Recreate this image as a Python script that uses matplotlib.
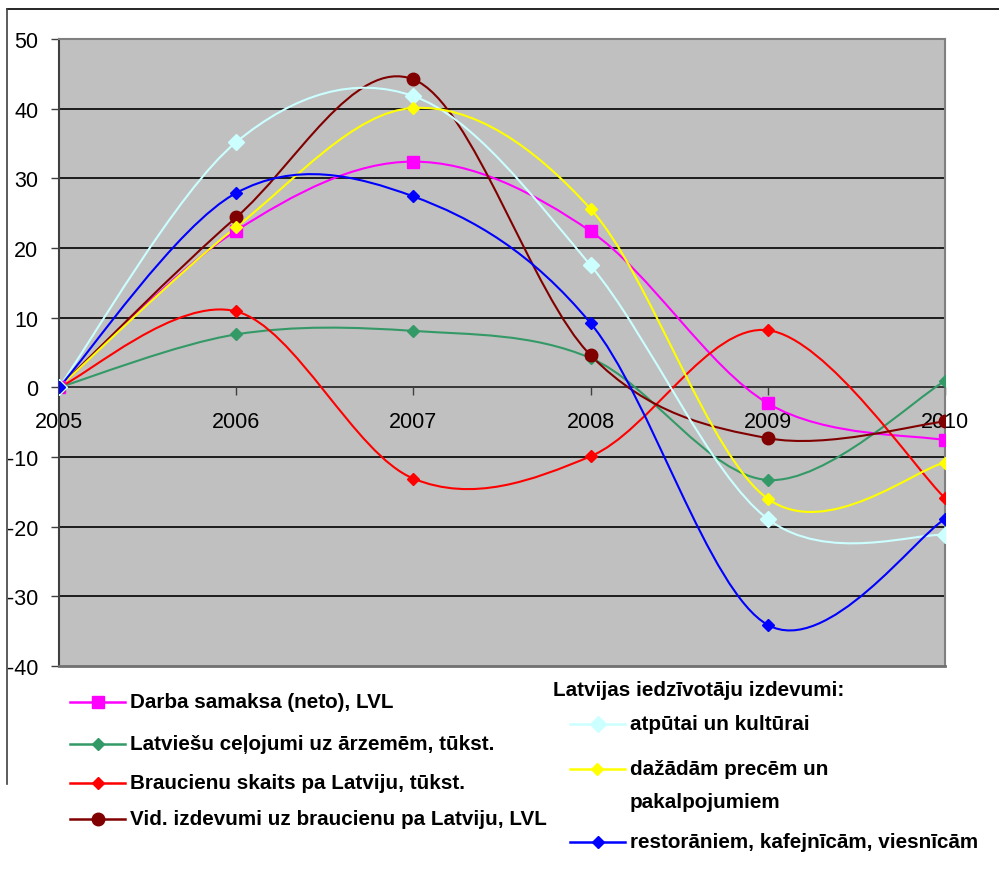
import numpy as np
import matplotlib.pyplot as plt
from matplotlib.path import Path
from matplotlib.patches import PathPatch
from matplotlib.lines import Line2D

plt.rcParams["axes.unicode_minus"] = False

years = [2005, 2006, 2007, 2008, 2009, 2010]

darba = [0, 22.5, 32.4, 22.4, -2.3, -7.6]
celojumi = [0, 7.6, 8.1, 4.2, -13.3, 0.9]
braucieni = [0, 10.9, -13.1, -9.9, 8.2, -15.9]
vid_izdevumi = [0, 24.4, 44.2, 4.6, -7.3, -4.9]
atputai = [0, 35.2, 41.8, 17.5, -18.9, -21.2]
precem = [0, 23.0, 40.1, 25.6, -16.0, -10.8]
restoraniem = [0, 27.9, 27.4, 9.2, -34.1, -18.9]

left_series = [
    ("Darba samaksa (neto), LVL", darba, "#FF00FF", "s", 9),
    ("Latviešu ceļojumi uz ārzemēm, tūkst.", celojumi, "#339966", "D", 6),
    ("Braucienu skaits pa Latviju, tūkst.", braucieni, "#FF0000", "D", 6),
    ("Vid. izdevumi uz braucienu pa Latviju, LVL", vid_izdevumi, "#800000", "o", 9),
]
right_header = "Latvijas iedzīvotāju izdevumi:"
right_series = [
    ("atpūtai un kultūrai", atputai, "#CCFFFF", "D", 8),
    ("dažādām precēm un\npakalpojumiem", precem, "#FFFF00", "D", 6),
    ("restorāniem, kafejnīcām, viesnīcām", restoraniem, "#0000FF", "D", 6),
]


def smooth_path(x, y):
    # Excel-like smoothed line: Catmull-Rom converted to cubic Bezier
    pts = np.column_stack([x, y]).astype(float)
    ext = np.vstack([pts[0], pts, pts[-1]])
    verts = [pts[0]]
    codes = [Path.MOVETO]
    for i in range(1, len(ext) - 2):
        p0, p1, p2, p3 = ext[i - 1], ext[i], ext[i + 1], ext[i + 2]
        verts += [p1 + (p2 - p0) / 6, p2 - (p3 - p1) / 6, p2]
        codes += [Path.CURVE4] * 3
    return Path(verts, codes)


fig = plt.figure(figsize=(9.99, 8.70), dpi=100)
ax = fig.add_axes([59 / 999, 1 - 667 / 870, 886 / 999, 627 / 870])
ax.set_facecolor("#C0C0C0")

for label, vals, color, marker, ms in left_series + right_series:
    ax.add_patch(PathPatch(smooth_path(years, vals), fill=False,
                           edgecolor=color, lw=1.5, zorder=3))
    ax.plot(years, vals, linestyle="none", marker=marker, ms=ms,
            color=color, zorder=4)

ax.set_xlim(2005, 2010)
ax.set_ylim(-40, 50)
ax.set_yticks(range(-40, 51, 10))
ax.set_xticks(years)
ax.set_xticklabels([str(y) for y in years])
for t in ax.get_yticks()[1:-1]:
    ax.axhline(t, color="black", lw=1.2, zorder=1)

ax.spines["bottom"].set_position(("data", 0))
ax.spines["bottom"].set_color("#404040")
ax.spines["bottom"].set_linewidth(1.2)
ax.spines["left"].set_color("#404040")
ax.spines["left"].set_linewidth(1.5)
ax.spines["top"].set_color("#808080")
ax.spines["right"].set_color("#808080")
ax.spines["top"].set_linewidth(1.5)
ax.spines["right"].set_linewidth(1.5)
ax.add_line(Line2D([0, 1], [0, 0], transform=ax.transAxes,
                   color="#707070", lw=2, clip_on=False, zorder=5))

ax.tick_params(axis="x", direction="out", length=6, width=1, color="#404040",
               pad=11, labelsize=15.5)
ax.tick_params(axis="y", direction="out", length=6, width=1, color="#404040",
               pad=9, labelsize=15.5)
for lab in ax.get_xticklabels() + ax.get_yticklabels():
    lab.set_family("Liberation Sans")

# outer frame
fig.add_artist(Line2D([7 / 999, 1], [1 - 10 / 870, 1 - 10 / 870], color="black", lw=1.2))
fig.add_artist(Line2D([7 / 999, 7 / 999], [1 - 10 / 870, 1 - 785 / 870], color="#404040", lw=1.2))

leg_font = dict(family="Liberation Sans", weight="bold", size=14.9)


def legend_item(x0, x1, yc, color, marker, ms, label):
    fy = 1 - yc / 870
    fig.add_artist(Line2D([x0 / 999, x1 / 999], [fy, fy], color=color, lw=1.8))
    fig.add_artist(Line2D([(x0 + x1) / 2 / 999], [fy], color=color, marker=marker, ms=ms))
    fig.text((x1 + 5) / 999, fy, label, va="center", ha="left", **leg_font)


left_rows = [703, 745, 784, 820]
for (label, vals, color, marker, ms), yc in zip(left_series, left_rows):
    legend_item(70, 125, yc, color, marker, ms, label)

fig.text(553 / 999, 1 - 690 / 870, right_header, va="center", ha="left", **leg_font)
right_rows = [725, 770, 843]
for (label, vals, color, marker, ms), yc in zip(right_series, right_rows):
    if "\n" in label:
        fy = 1 - yc / 870
        fig.add_artist(Line2D([570 / 999, 625 / 999], [fy, fy], color=color, lw=1.8))
        fig.add_artist(Line2D([597 / 999], [fy], color=color, marker=marker, ms=ms))
        fig.text(630 / 999, 1 - (yc + 16) / 870, label, va="center", ha="left",
                 linespacing=1.92, **leg_font)
    else:
        legend_item(570, 625, yc, color, marker, ms, label)

fig.savefig("out.png", dpi=100)
